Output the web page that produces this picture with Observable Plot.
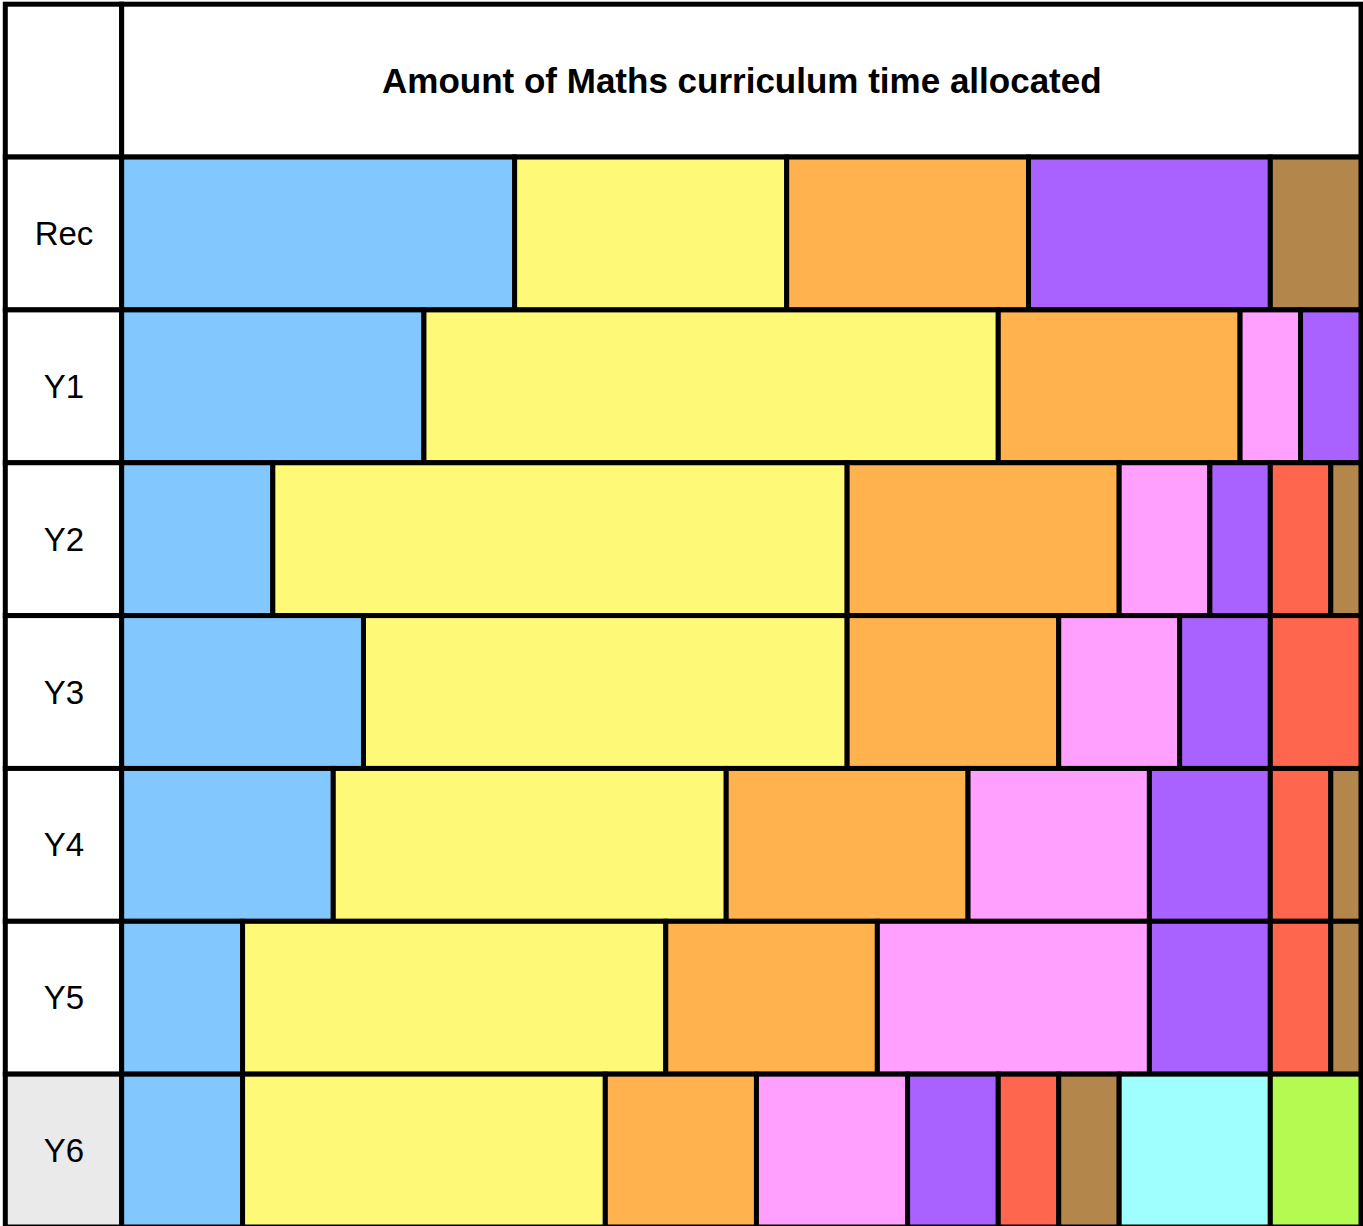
<!DOCTYPE html>
<html>
<head>
<meta charset="utf-8">
<script src="https://cdn.jsdelivr.net/npm/d3@7"></script>
<script src="https://cdn.jsdelivr.net/npm/@observablehq/plot@0.6"></script>
<style>
  html, body { margin: 0; padding: 0; background: #ffffff; }
  #chart svg { display: block; }
</style>
</head>
<body>
<div id="chart"></div>
<script>
// ---- data (units of curriculum time; each row totals 41) ----
const title = "Amount of Maths curriculum time allocated";
const rows = ["Rec", "Y1", "Y2", "Y3", "Y4", "Y5", "Y6"];
const highlightedRow = "Y6";
const topics = ["T1", "T2", "T3", "T4", "T5", "T6", "T7", "T8", "T9"];
const topicColors = ["#82C8FF", "#FEFA78", "#FFB24D", "#FF9FFE", "#A962FF", "#FF664D", "#B3864C", "#9FFFFE", "#B4FA50"];

const recTopics = ["T1", "T2", "T3", "T5", "T7"];
const recValues = [13, 9, 8, 8, 3];
const y1Topics = ["T1", "T2", "T3", "T4", "T5"];
const y1Values = [10, 19, 8, 2, 2];
const y2Topics = ["T1", "T2", "T3", "T4", "T5", "T6", "T7"];
const y2Values = [5, 19, 9, 3, 2, 2, 1];
const y3Topics = ["T1", "T2", "T3", "T4", "T5", "T6"];
const y3Values = [8, 16, 7, 4, 3, 3];
const y4Topics = ["T1", "T2", "T3", "T4", "T5", "T6", "T7"];
const y4Values = [7, 13, 8, 6, 4, 2, 1];
const y5Topics = ["T1", "T2", "T3", "T4", "T5", "T6", "T7"];
const y5Values = [4, 14, 7, 9, 4, 2, 1];
const y6Topics = ["T1", "T2", "T3", "T4", "T5", "T6", "T7", "T8", "T9"];
const y6Values = [4, 12, 5, 5, 3, 2, 2, 5, 3];

const totalUnits = 41;
const labelUnits = 3.85; // width of the row-label column, in the same units

// ---- build table for the library ----
const rowSpecs = [
  ["Rec", recTopics, recValues],
  ["Y1", y1Topics, y1Values],
  ["Y2", y2Topics, y2Values],
  ["Y3", y3Topics, y3Values],
  ["Y4", y4Topics, y4Values],
  ["Y5", y5Topics, y5Values],
  ["Y6", y6Topics, y6Values]
];
const segments = [];
for (const [row, tps, vals] of rowSpecs) {
  const ends = Array.from(d3.cumsum(vals));
  vals.forEach((v, i) => {
    segments.push({row, topic: tps[i], x1: ends[i] - v, x2: ends[i]});
  });
}
const headerKey = "header";
const labelCells = [headerKey, ...rows].map(r => ({row: r}));

const chart = Plot.plot({
  width: 1363,
  height: 1226,
  marginTop: 0,
  marginBottom: 0,
  marginLeft: 5.3,
  marginRight: 2,
  style: {background: "#ffffff", fontFamily: "Helvetica, 'Liberation Sans', Arial, sans-serif"},
  x: {domain: [-labelUnits, totalUnits], axis: null},
  y: {domain: [headerKey, ...rows], axis: null, padding: 0, round: false, range: [4.2, 1227]},
  color: {domain: topics, range: topicColors},
  marks: [
    // row-label column cells
    Plot.barX(labelCells, {
      x1: -labelUnits, x2: 0, y: "row",
      fill: d => d.row === highlightedRow ? "#EAEAEA" : "#ffffff",
      stroke: "#000000", strokeWidth: 5
    }),
    // header cell
    Plot.barX([{row: headerKey}], {
      x1: 0, x2: totalUnits, y: "row",
      fill: "#ffffff", stroke: "#000000", strokeWidth: 5
    }),
    // time segments
    Plot.barX(segments, {
      x1: "x1", x2: "x2", y: "row", fill: "topic",
      stroke: "#000000", strokeWidth: 5
    }),
    // title
    Plot.text([title], {
      x: totalUnits / 2, y: () => headerKey, text: d => d,
      fontSize: 35, fontWeight: "bold", fill: "#000000", dy: 0.5
    }),
    // row labels
    Plot.text(rows, {
      x: -labelUnits / 2, y: d => d, text: d => d,
      fontSize: 33, fill: "#000000", dy: 0.5
    })
  ]
});
document.getElementById("chart").appendChild(chart);
</script>
</body>
</html>
